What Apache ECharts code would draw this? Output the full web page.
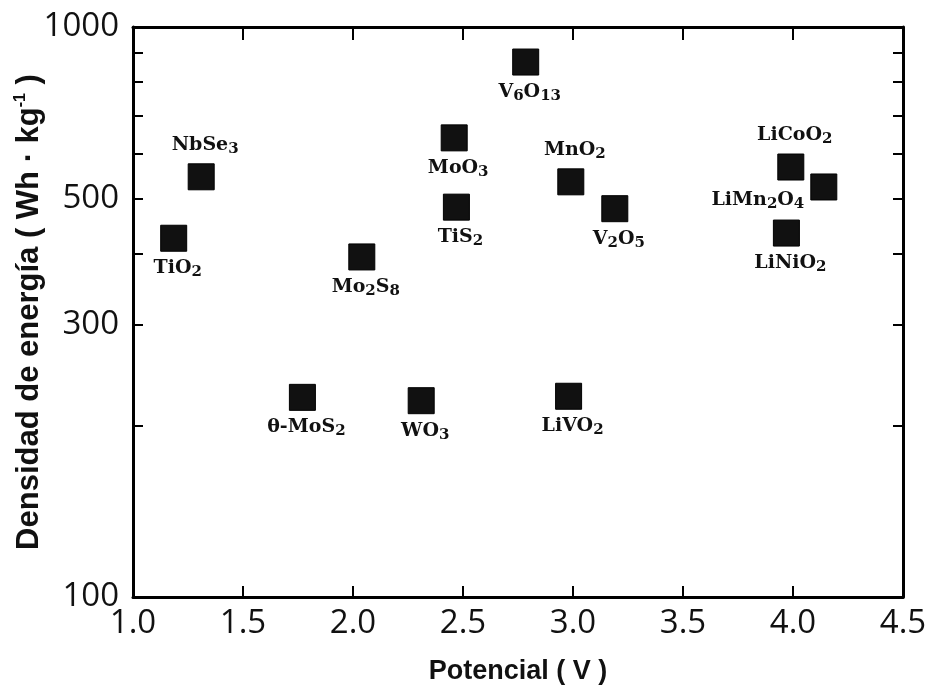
<!DOCTYPE html>
<html>
<head>
<meta charset="utf-8">
<script src="https://cdn.jsdelivr.net/npm/echarts@6/dist/echarts.min.js"></script>
<style>
  html,body{margin:0;padding:0;background:#fff;}
  #chart{width:927px;height:687px;}
</style>
</head>
<body>
<div id="chart"></div>
<script>
  // compuestos de intercalacion: potencial (V) vs densidad de energia (Wh/kg)
  var names = ['NbSe{s|3}', 'TiO{s|2}', 'Mo{s|2}S{s|8}', 'MoO{s|3}', 'TiS{s|2}', 'V{s|6}O{s|13}', 'MnO{s|2}',
    'V{s|2}O{s|5}', 'LiCoO{s|2}', 'LiMn{s|2}O{s|4}', 'LiNiO{s|2}', 'θ-MoS{s|2}', 'WO{s|3}', 'LiVO{s|2}']
  var potencial = [1.31, 1.185, 2.04, 2.46, 2.47, 2.785, 2.99, 3.19, 3.99, 4.14, 3.97, 1.77, 2.31, 2.98]
  var densidad = [546, 426, 395, 639, 483, 868, 535, 480, 568, 524, 435, 224, 221, 225]
  var labelPos = ['top', 'bottom', 'bottom', 'bottom', 'bottom', 'bottom', 'top',
    'bottom', 'top', 'left', 'bottom', 'bottom', 'bottom', 'bottom']

  var xTicks = [1.0, 1.5, 2.0, 2.5, 3.0, 3.5, 4.0, 4.5]
  var yLabels = [100, 300, 500, 1000]
  var yTicks = [100, 200, 300, 400, 500, 600, 700, 800, 900, 1000]

  var chart = echarts.init(document.getElementById('chart'))

  var data = []
  potencial.forEach(function (p, i) {
    var pos = labelPos[i]
    data.push({
      value: [p, densidad[i]],
      name: names[i],
      label: {
        position: pos,
        distance: pos === 'left' ? 6 : (pos === 'top' ? 7 : 5),
        offset: pos === 'left' ? [0, 13] : [4, 0]
      }
    })
  })

  var axisLine = {show: true, lineStyle: {color: '#000', width: 3}}
  var tickFont = {fontFamily: 'Open Sans', fontSize: 33, color: '#111'}

  var option = {
    animation: false,
    backgroundColor: '#fff',
    grid: {left: 133, right: 24, top: 27, bottom: 90, outerBoundsMode: 'none'},
    xAxis: [{
      type: 'value',
      min: 1, max: 4.5, interval: 0.5,
      position: 'bottom',
      name: 'Potencial ( V )',
      nameLocation: 'middle',
      nameGap: 61,
      nameTextStyle: {fontFamily: 'Liberation Sans', fontWeight: 'bold', fontSize: 27, color: '#111'},
      axisLine: axisLine,
      axisTick: {inside: true, length: 11, lineStyle: {color: '#000', width: 2}},
      axisLabel: Object.assign({
        margin: 10,
        customValues: xTicks,
        formatter: function (v) { return v.toFixed(1) }
      }, tickFont),
      splitLine: {show: false}
    }, {
      type: 'value',
      min: 1, max: 4.5, interval: 0.5,
      position: 'top',
      axisLine: axisLine,
      axisTick: {inside: true, length: 13, lineStyle: {color: '#000', width: 2}},
      axisLabel: {show: false},
      splitLine: {show: false}
    }],
    yAxis: [{
      type: 'log',
      logBase: 10,
      min: 100, max: 1000,
      position: 'left',
      name: 'Densidad de energía ( Wh · kg{sup|-1} )',
      nameLocation: 'middle',
      nameGap: 87,
      nameMoveOverlap: false,
      nameTextStyle: {
        fontFamily: 'Liberation Sans', fontWeight: 'bold', fontSize: 31, color: '#111',
        rich: {sup: {fontFamily: 'Liberation Sans', fontWeight: 'bold', fontSize: 16, color: '#111', verticalAlign: 'top', padding: [0, 0, 17, 0]}}
      },
      axisLine: axisLine,
      axisTick: {inside: true, length: 10, customValues: yTicks, lineStyle: {color: '#000', width: 2}},
      axisLabel: Object.assign({
        margin: 14,
        customValues: yLabels,
        formatter: function (v) { return String(v) }
      }, tickFont),
      splitLine: {show: false}
    }, {
      type: 'log',
      logBase: 10,
      min: 100, max: 1000,
      position: 'right',
      axisLine: axisLine,
      axisTick: {inside: true, length: 10, customValues: yTicks, lineStyle: {color: '#000', width: 2}},
      axisLabel: {show: false},
      splitLine: {show: false}
    }],
    series: [{
      type: 'scatter',
      xAxisIndex: 0,
      yAxisIndex: 0,
      symbol: 'rect',
      symbolSize: 26,
      itemStyle: {
        color: '#111',
        opacity: 1,
        borderColor: '#000',
        borderWidth: 1
      },
      label: {
        show: true,
        formatter: function (p) { return p.name },
        fontFamily: 'DejaVu Serif',
        fontWeight: 'bold',
        fontSize: 19,
        color: '#111',
        rich: {
          s: {fontFamily: 'DejaVu Serif', fontWeight: 'bold', fontSize: 15, color: '#111', verticalAlign: 'bottom', padding: [8, 0, 0, 0]}
        }
      },
      data: data
    }]
  }

  chart.setOption(option)
</script>
</body>
</html>
